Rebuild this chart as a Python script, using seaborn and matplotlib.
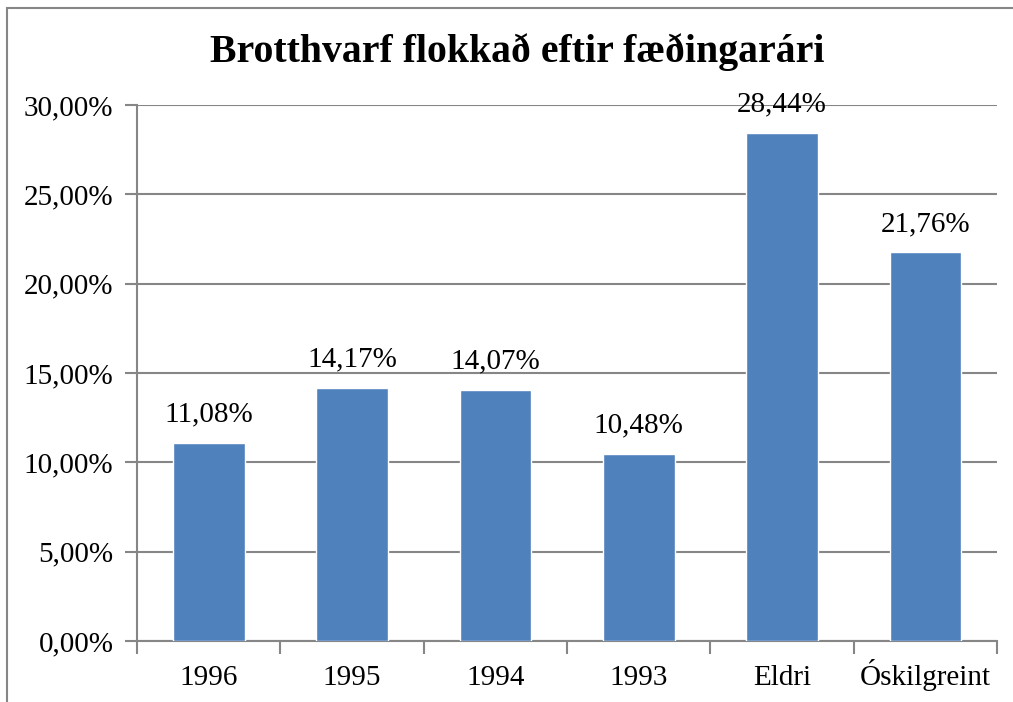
import matplotlib
matplotlib.use("Agg")
import matplotlib.pyplot as plt
import matplotlib.patches as mpatches
from matplotlib.ticker import FuncFormatter, FixedLocator
import seaborn as sns
import pandas as pd

categories = ["1996", "1995", "1994", "1993", "Eldri", "Óskilgreint"]
values = [11.08, 14.17, 14.07, 10.48, 28.44, 21.76]
title = "Brotthvarf flokkað eftir fæðingarári"

sns.set_style("white")
plt.rcParams["font.family"] = ["Liberation Serif", "DejaVu Serif"]
plt.rcParams["text.color"] = "black"
plt.rcParams["xtick.color"] = "black"
plt.rcParams["ytick.color"] = "black"

GRAY = "#868686"
BLUE = "#4F81BD"
FS = 21

fig = plt.figure(figsize=(10.13, 7.02), dpi=100)
ax = fig.add_axes([137/1013, 1-641/702, (997-137)/1013, (641-105)/702])

df = pd.DataFrame({"cat": categories, "val": values})
sns.barplot(data=df, x="cat", y="val", color=BLUE, width=0.5, ax=ax,
            saturation=1, zorder=3)

def pct(v):
    return f"{v:.2f}".replace(".", ",") + "%"

ax.bar_label(ax.containers[0], labels=[pct(v) for v in values],
             padding=11, fontsize=FS, color="black")

ax.set_ylim(0, 30)
ax.set_xlim(-0.5, len(categories) - 0.5)
ax.yaxis.set_major_locator(FixedLocator([0, 5, 10, 15, 20, 25, 30]))
ax.yaxis.set_major_formatter(FuncFormatter(lambda v, p: pct(v)))
ax.grid(axis="y", color=GRAY, linewidth=1.5, zorder=0)
ax.grid(axis="x", visible=False)
ax.set_axisbelow(True)

ax.set_xlabel("")
ax.set_ylabel("")
for s in ["top", "right"]:
    ax.spines[s].set_visible(False)
for s in ["left", "bottom"]:
    ax.spines[s].set_color(GRAY)
    ax.spines[s].set_linewidth(1.5)

ax.tick_params(axis="y", which="major", direction="out", length=9, width=1.5,
               color=GRAY, labelcolor="black", labelsize=FS, pad=8, left=True)
ax.tick_params(axis="x", which="major", length=0, labelsize=FS, pad=32,
               labelcolor="black")
for lab in ax.get_xticklabels():
    lab.set_verticalalignment("baseline")
ax.set_xticks([i - 0.5 for i in range(len(categories) + 1)], minor=True)
ax.tick_params(axis="x", which="minor", direction="out", length=9, width=1.5,
               color=GRAY, bottom=True)

fig.text(517/1013, 1-52/702, title, ha="center", va="center",
         fontsize=28.6, fontweight="bold", color="black")

rect = mpatches.Rectangle((7/1013, -0.2), 1.5, 0.2 + (1-8/702),
                          transform=fig.transFigure, fill=False,
                          edgecolor=GRAY, linewidth=1.5)
fig.patches.append(rect)

fig.savefig("out.png", dpi=100)
